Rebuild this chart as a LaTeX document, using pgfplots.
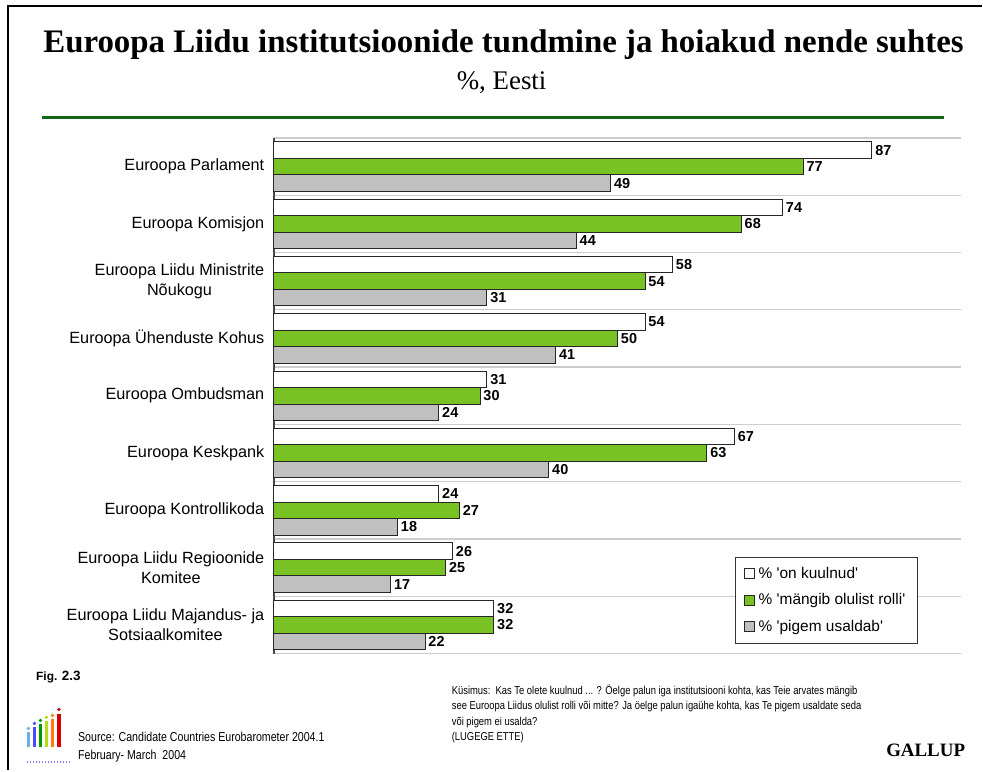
\documentclass[border=0pt]{standalone}
\usepackage{fontspec}
\setmainfont{Liberation Serif}
\setsansfont{Liberation Sans}
\newfontfamily\narrow[FakeStretch=0.82]{Liberation Sans}
\usepackage{pgfplots}
\pgfplotsset{compat=1.18}

\definecolor{barGreen}{RGB}{120,195,35}
\definecolor{barGray}{RGB}{192,192,192}
\definecolor{ruleGreen}{RGB}{20,100,20}
\definecolor{sepGray}{RGB}{205,205,205}
\definecolor{axisGray}{RGB}{70,70,70}
\newcommand{\q}{\textquotesingle}

\begin{document}
\begin{tikzpicture}[x=1bp,y=-1bp]
\path (0,0) rectangle (983,771);
% frame
\draw[line width=1.5bp] (8,771) -- (8,6) -- (983,6);

% titles
\node[anchor=base, inner sep=0, font=\fontsize{33}{38}\selectfont\bfseries] at (504,53)
  {Euroopa Liidu institutsioonide tundmine ja hoiakud nende suhtes};
\node[anchor=base, inner sep=0, font=\fontsize{27}{30}\selectfont] at (502,90) {\%, Eesti};
\draw[ruleGreen, line width=3bp] (42,118) -- (945,118);

\begin{axis}[
    at={(274bp,-654bp)}, anchor=south west,
    scale only axis, width=688bp, height=516bp,
    xbar, bar width=16.5bp,
    xmin=0, xmax=100, ymin=-0.5, ymax=8.5,
    y dir=reverse,
    axis x line=none,
    axis y line*=left,
    axis line style={axisGray, line width=1.5bp},
    ytick={0,...,8},
    minor ytick={-0.5,0.5,...,8.5},
    yminorgrids=true,
    minor grid style={sepGray, line width=1.2bp},
    major tick length=0pt, minor tick length=0pt,
    yticklabels={{Euroopa Parlament},{Euroopa Komisjon},{Euroopa Liidu Ministrite\\Nõukogu},
      {Euroopa Ühenduste Kohus},{Euroopa Ombudsman},{Euroopa Keskpank},{Euroopa Kontrollikoda},
      {Euroopa Liidu Regioonide\\Komitee},{Euroopa Liidu Majandus- ja\\Sotsiaalkomitee}},
    yticklabel style={align=center, font=\sffamily\fontsize{16.3}{20}\selectfont, xshift=-6bp},
    nodes near coords,
    /pgf/number format/assume math mode=true,
    nodes near coords style={font=\sffamily\bfseries\fontsize{14.5}{16}\selectfont, anchor=west, inner xsep=3bp, black},
    every axis plot/.append style={draw=black!85, line width=0.9bp},
    legend cell align=left,
    legend image code/.code={\draw[#1, line width=0.8bp] (0bp,-5bp) rectangle (10bp,5bp);},
    legend style={at={(0.6715,0.188)}, anchor=north west, draw=black!80, line width=1bp,
      font=\sffamily\fontsize{15.5}{18}\selectfont, row sep=10bp, inner xsep=8bp, inner ysep=8bp,
      nodes={inner xsep=4bp}},
    clip=false,
]
\addplot[fill=white, bar shift=16.5bp] coordinates {
  (87,0) (74,1) (58,2) (54,3) (31,4) (67,5) (24,6) (26,7) (32,8)};
\addplot[fill=barGreen, bar shift=0bp] coordinates {
  (77,0) (68,1) (54,2) (50,3) (30,4) (63,5) (27,6) (25,7) (32,8)};
\addplot[fill=barGray, bar shift=-16.5bp] coordinates {
  (49,0) (44,1) (31,2) (41,3) (24,4) (40,5) (18,6) (17,7) (22,8)};
\legend{\% \q on kuulnud\q, \% \q mängib olulist rolli\q, \% \q pigem usaldab\q}
\end{axis}

% footer
\node[anchor=base west, inner sep=0, font=\sffamily\bfseries\fontsize{12}{14}\selectfont] at (36,681)
  {Fig. {\fontsize{13.5}{14}\selectfont 2.3}};
\begin{scope}[every node/.style={anchor=base west, inner sep=0, font=\narrow\fontsize{13}{17}\selectfont}]
\node at (78,742) {Source: Candidate Countries Eurobarometer 2004.1};
\node at (78,760) {February- March\ \ 2004};
\end{scope}
\begin{scope}[every node/.style={anchor=base west, inner sep=0, font=\narrow\fontsize{11.5}{15}\selectfont}]
\node at (452,695) {Küsimus:\ \ Kas Te olete kuulnud ... ? Öelge palun iga institutsiooni kohta, kas Teie arvates mängib};
\node at (452,710) {see Euroopa Liidus olulist rolli või mitte? Ja öelge palun igaühe kohta, kas Te pigem usaldate seda};
\node at (452,726) {või pigem ei usalda?};
\node at (452,741) {(LUGEGE ETTE)};
\end{scope}
\node[anchor=base east, inner sep=0, font=\bfseries\fontsize{19}{22}\selectfont] at (966,757) {GALLUP};

% logo
\fill[cyan!70!blue!60] (27,733) rectangle (30,748);
\fill[blue!70] (33,728) rectangle (36,748);
\fill[green!60!black] (39,725) rectangle (42,748);
\fill[yellow!70!green] (45,722) rectangle (48,748);
\fill[orange] (51,720) rectangle (54,748);
\fill[red!85!black] (57,715) rectangle (61,748);
\foreach \x/\y/\c in {28.5/729/cyan!70!blue!60, 34.5/724/blue!70, 40.5/721/green!60!black,
  46.5/718/yellow!70!green, 52.5/716/orange, 59/710/red!85!black}
  \fill[\c] (\x,\y) circle (1.8);
\foreach \x in {27,30,...,69} \fill[blue!50] (\x,762) rectangle ++(1.5,1.5);
\end{tikzpicture}
\end{document}
